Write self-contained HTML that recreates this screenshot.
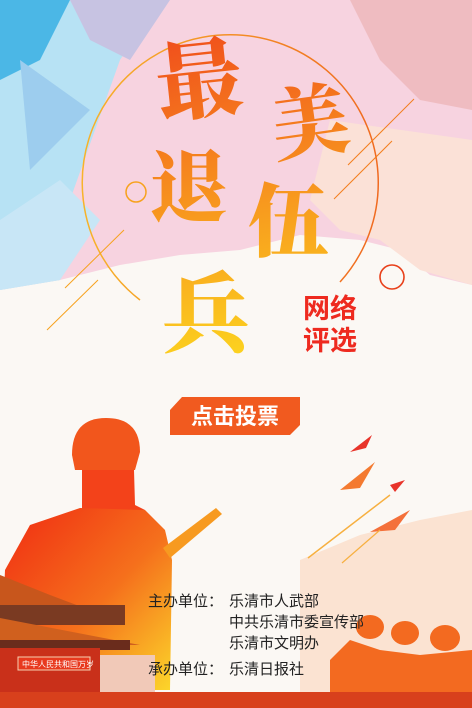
<!DOCTYPE html>
<html><head><meta charset="utf-8">
<style>
html,body{margin:0;padding:0;}
body{width:472px;height:708px;overflow:hidden;position:relative;background:#fbf8f4;font-family:"Liberation Sans","Noto Sans CJK SC",sans-serif;}
svg{position:absolute;left:0;top:0;}
.t{position:absolute;font-size:15px;color:#222;white-space:nowrap;}
</style></head><body>
<svg width="472" height="708">
<defs>
<linearGradient id="tg" gradientUnits="userSpaceOnUse" x1="180" y1="30" x2="240" y2="360"><stop offset="0" stop-color="#f04e1c"/><stop offset="0.5" stop-color="#f7921e"/><stop offset="1" stop-color="#fcd41f"/></linearGradient>
<linearGradient id="sg" x1="0" y1="0" x2="1" y2="1"><stop offset="0" stop-color="#f02a12"/><stop offset="0.55" stop-color="#f5701c"/><stop offset="1" stop-color="#fcd62a"/></linearGradient>
<linearGradient id="rg" x1="0" y1="0" x2="1" y2="0"><stop offset="0" stop-color="#f7b32a"/><stop offset="1" stop-color="#f06a20"/></linearGradient>
</defs>
<path d="M0 0H472V285L430 275 400 250 360 240 300 235 240 250 180 255 120 265 60 280 0 290Z" fill="#f7d3e0"/>
<path d="M0 0H160L120 60 70 200 60 280 0 290Z" fill="#b7e2f4"/>
<path d="M0 0H70L40 60 0 80Z" fill="#4bb7e6"/>
<path d="M20 60L90 110 30 170Z" fill="#9dcdee"/>
<path d="M70 0H170L130 60 90 40Z" fill="#c7c3e2"/>
<path d="M350 0H472V110L420 100 380 60Z" fill="#efbcc1"/>
<path d="M330 120L472 140V285L420 270 380 240 340 230 310 200Z" fill="#fbe1d7"/>
<path d="M60 180L100 220 60 280 0 290 0 220Z" fill="#c8e6f6"/>
<path d="M140 300 A148 148 0 1 1 340 282" fill="none" stroke="url(#rg)" stroke-width="1.5"/>
<circle cx="136" cy="192" r="10" fill="none" stroke="#f7a21e" stroke-width="1.5"/>
<circle cx="392" cy="277" r="12" fill="none" stroke="#e8401a" stroke-width="1.6"/>
<line x1="65" y1="288" x2="124" y2="230" stroke="#f7a21e" stroke-width="1"/>
<line x1="47" y1="330" x2="98" y2="280" stroke="#f7a21e" stroke-width="1"/>
<line x1="348" y1="165" x2="414" y2="99" stroke="#f37e1e" stroke-width="1"/>
<line x1="334" y1="199" x2="392" y2="141" stroke="#f37e1e" stroke-width="1"/>
<g font-family="'Noto Serif CJK SC','Noto Sans CJK SC',serif" font-weight="900" fill="url(#tg)">
<text x="155" y="110" font-size="86" transform="rotate(-6 205 70)">最</text>
<text x="270" y="150" font-size="78" transform="rotate(-8 310 115)">美</text>
<text x="150" y="215" font-size="78">退</text>
<text x="248" y="250" font-size="80">伍</text>
<text x="162" y="345" font-size="88">兵</text>
</g>
<text x="303" y="318" font-size="27" font-weight="bold" fill="#ee2a1f" font-family="'Noto Sans CJK SC',sans-serif">网络</text>
<text x="303" y="350" font-size="27" font-weight="bold" fill="#ee2a1f" font-family="'Noto Sans CJK SC',sans-serif">评选</text>
<path d="M300 708L300 560 360 535 420 520 472 510V708Z" fill="#fbe3d2"/>
<g>
<path d="M72 455 Q72 418 106 418 Q140 418 140 452 L135 470 L75 470Z" fill="#f2561c"/>
<path d="M82 470 L134 470 135 505 L145 510 L82 510Z" fill="#f3421a"/>
<path d="M5 570 L30 525 80 508 145 510 165 530 172 560 170 690 H0Z" fill="url(#sg)"/>
<path d="M163 548 L216 508 222 514 170 558Z" fill="#f79a20"/>
</g>
<g>
<path d="M0 575 L50 595 95 612 0 612Z" fill="#c8561c"/>
<rect x="0" y="605" width="125" height="20" fill="#7a3a22"/>
<path d="M0 618 L140 645 0 645Z" fill="#d0601e"/>
<rect x="0" y="640" width="130" height="10" fill="#6a2c1c"/>
<rect x="0" y="648" width="100" height="50" fill="#c9301a"/>
<rect x="100" y="655" width="55" height="45" fill="#f1c9b8"/>
<rect x="18" y="657" width="72" height="13" fill="#e8391e" stroke="#f6d0b0" stroke-width="1"/>
<text x="22" y="667" font-size="8" fill="#fff">中华人民共和国万岁</text>
</g>
<g fill="#f36a20">
<ellipse cx="370" cy="627" rx="14" ry="12"/>
<ellipse cx="405" cy="633" rx="14" ry="12"/>
<ellipse cx="445" cy="638" rx="15" ry="13"/>
<path d="M330 660 L350 640 380 650 420 655 472 650 V708 H330Z"/>
</g>
<rect x="0" y="692" width="472" height="16" fill="#d8401c"/>
<g>
<path d="M350 452 L372 435 366 448Z" fill="#e8342a"/>
<path d="M340 490 L375 462 360 488Z" fill="#f47a30"/>
<path d="M390 485 L405 480 395 492Z" fill="#e8342a"/>
<path d="M370 532 L410 510 395 530Z" fill="#f4703a"/>
<line x1="308" y1="558" x2="390" y2="495" stroke="#f7b040" stroke-width="1.5"/>
<line x1="342" y1="563" x2="380" y2="530" stroke="#f7b040" stroke-width="1.2"/>
</g>
<path d="M182 397 H300 V425 L290 435 H170 V410Z" fill="#f15a1f"/>
</svg>
<div class="t" style="left:191px;top:399px;font-size:22px;color:#fff;font-weight:bold;cursor:pointer;">点击投票</div>
<div class="t" style="left:148px;top:590px;">主办单位：</div>
<div class="t" style="left:229px;top:590px;">乐清市人武部</div>
<div class="t" style="left:229px;top:611px;">中共乐清市委宣传部</div>
<div class="t" style="left:229px;top:632px;">乐清市文明办</div>
<div class="t" style="left:148px;top:658px;">承办单位：</div>
<div class="t" style="left:229px;top:658px;">乐清日报社</div>
</body></html>
